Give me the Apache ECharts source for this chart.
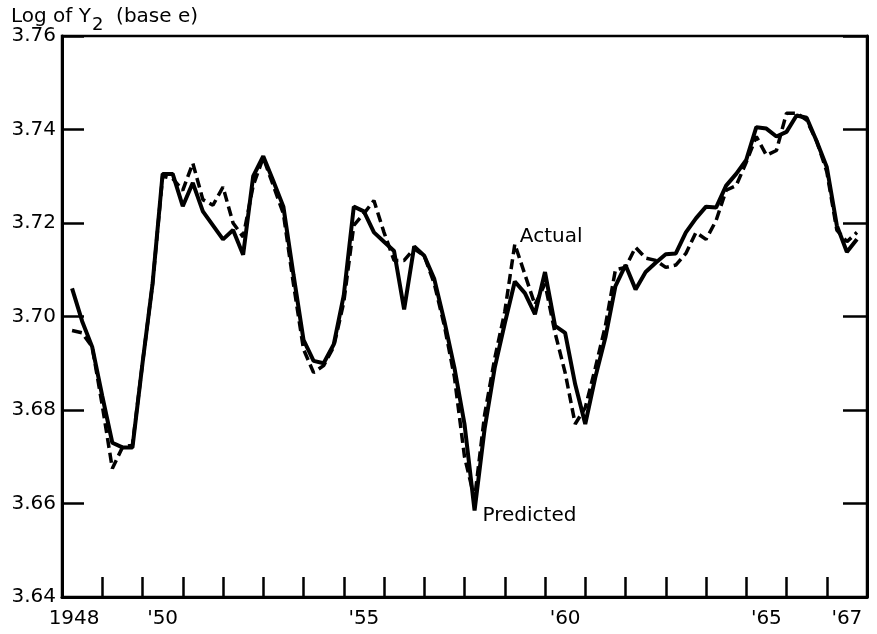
<!DOCTYPE html>
<html>
<head>
<meta charset="utf-8">
<script src="https://cdn.jsdelivr.net/npm/echarts@6/dist/echarts.min.js"></script>
<style>
  html, body { margin: 0; padding: 0; background: #fff; }
  #chart { width: 877px; height: 634px; }
</style>
</head>
<body>
<div id="chart"></div>
<script>
// Quarterly observations, first quarter plotted at 1948.25, step one quarter
const firstQuarter = 1948.25;
const quarterStep = 0.25;

// Solid line ("Predicted")
const predicted = [
  3.706, 3.699, 3.6935, 3.683, 3.673, 3.672, 3.672, 3.690, 3.707, 3.7305,
  3.7305, 3.7236, 3.7286, 3.7225, 3.7195, 3.7165, 3.7185, 3.7132, 3.7300, 3.7343,
  3.729, 3.7235, 3.709, 3.695, 3.6905, 3.690, 3.694, 3.7045, 3.7235, 3.7225,
  3.718, 3.716, 3.714, 3.7015, 3.715, 3.713, 3.708, 3.699, 3.689, 3.677,
  3.6585, 3.676, 3.689, 3.6985, 3.7075, 3.705, 3.7005, 3.7095, 3.698, 3.6965,
  3.6855, 3.677, 3.687, 3.6955, 3.7065, 3.711, 3.7058, 3.7095, 3.7115, 3.7133,
  3.7135, 3.718, 3.721, 3.7235, 3.7233, 3.728, 3.7305, 3.7335, 3.7405, 3.7402,
  3.7385, 3.7395, 3.743, 3.7425, 3.7375, 3.732, 3.7195, 3.7138, 3.7165
];

// Dashed line ("Actual")
const actual = [
  3.697, 3.6965, 3.6935, 3.681, 3.6675, 3.672, 3.6725, 3.690, 3.707, 3.730,
  3.7295, 3.727, 3.7328, 3.725, 3.7238, 3.7277, 3.720, 3.717, 3.728, 3.734,
  3.728, 3.722, 3.707, 3.693, 3.688, 3.6895, 3.6935, 3.703, 3.7195, 3.722,
  3.7248, 3.718, 3.712, 3.712, 3.7145, 3.713, 3.707, 3.698, 3.687, 3.670,
  3.661, 3.679, 3.691, 3.701, 3.7155, 3.709, 3.7025, 3.707, 3.6965, 3.688,
  3.677, 3.6805, 3.689, 3.698, 3.710, 3.7105, 3.7148, 3.7125, 3.712, 3.7105,
  3.711, 3.7135, 3.718, 3.7165, 3.7205, 3.727, 3.728, 3.733, 3.7385, 3.7345,
  3.7355, 3.7435, 3.7435, 3.742, 3.7375, 3.731, 3.7185, 3.716, 3.718
];

// Axis ticks and labels
const xTickYears = [1949,1950,1951,1952,1953,1954,1955,1956,1957,1958,1959,1960,1961,1962,1963,1964,1965,1966,1967];
const xLabelPositions = [1948.3, 1950.5, 1955.5, 1960.5, 1965.5, 1967.5];
const xLabelTexts = ['1948', "'50", "'55", "'60", "'65", "'67"];
const yMin = 3.64, yMax = 3.76, yStep = 0.02;

const annotations = { actualIndex: 44, predictedIndex: 40 };

const xs = predicted.map((_, i) => firstQuarter + quarterStep * i);
const predData = predicted.map((v, i) => [xs[i], v]);
const actData = actual.map((v, i) => [xs[i], v]);

const FONT = 'DejaVu Sans';
const INK = '#000';

const chart = echarts.init(document.getElementById('chart'), null, { renderer: 'canvas' });

chart.setOption({
  animation: false,
  backgroundColor: '#fff',
  title: {
    left: 6,
    top: 2,
    text: '{t|Log of Y}{s|2}{t|  (base e)}',
    textStyle: {
      fontWeight: 'normal',
      rich: {
        t: { fontFamily: FONT, fontSize: 20, fontWeight: 'normal', color: INK, lineHeight: 26, verticalAlign: 'top' },
        s: { fontFamily: FONT, fontSize: 18, fontWeight: 'normal', color: INK, lineHeight: 26, verticalAlign: 'top', padding: [9, 0, 0, 1] }
      }
    }
  },
  grid: {
    left: 62, right: 10, top: 36, bottom: 37,
    show: true, borderColor: INK, borderWidth: 2.5,
    outerBoundsMode: 'none'
  },
  xAxis: [{
    type: 'value',
    min: 1948, max: 1968, interval: 1,
    splitLine: { show: false },
    axisLine: { show: true, lineStyle: { color: INK, width: 3 } },
    axisTick: {
      show: true, inside: true, length: 20,
      customValues: xTickYears,
      lineStyle: { color: INK, width: 2.5 }
    },
    axisLabel: {
      show: true,
      customValues: xLabelPositions,
      margin: 12,
      fontFamily: FONT, fontSize: 20, color: INK,
      formatter: function (v) {
        let best = 0, d = Infinity;
        xLabelPositions.forEach((p, i) => { const dd = Math.abs(p - v); if (dd < d) { d = dd; best = i; } });
        return xLabelTexts[best];
      }
    }
  }],
  yAxis: [{
    type: 'value',
    position: 'left',
    min: yMin, max: yMax, interval: yStep,
    splitLine: { show: false },
    axisLine: { show: true, lineStyle: { color: INK, width: 3 } },
    axisTick: { show: true, inside: true, length: 22, lineStyle: { color: INK, width: 2.5 } },
    axisLabel: {
      margin: 6, fontFamily: FONT, fontSize: 20, color: INK,
      formatter: v => v.toFixed(2)
    }
  }, {
    type: 'value',
    position: 'right',
    min: yMin, max: yMax, interval: yStep,
    splitLine: { show: false },
    axisLine: { show: true, lineStyle: { color: INK, width: 3 } },
    axisTick: { show: true, inside: true, length: 24, lineStyle: { color: INK, width: 2.5 } },
    axisLabel: { show: false }
  }],
  series: [{
    name: 'Actual',
    type: 'line',
    data: actData,
    symbol: 'none',
    lineStyle: { color: INK, width: 3.5, type: [10, 5] },
    z: 3,
    markPoint: {
      symbol: 'circle', symbolSize: 0,
      data: [{
        coord: actData[annotations.actualIndex],
        label: {
          show: true, formatter: 'Actual', position: 'right', distance: 5, offset: [0, -7],
          fontFamily: FONT, fontSize: 20, color: INK
        }
      }]
    }
  }, {
    name: 'Predicted',
    type: 'line',
    data: predData,
    symbol: 'none',
    lineStyle: { color: INK, width: 4 },
    z: 4,
    markPoint: {
      symbol: 'circle', symbolSize: 0,
      data: [{
        coord: predData[annotations.predictedIndex],
        label: {
          show: true, formatter: 'Predicted', position: 'right', distance: 8, offset: [0, 5],
          fontFamily: FONT, fontSize: 20, color: INK
        }
      }]
    }
  }]
});
</script>
</body>
</html>
